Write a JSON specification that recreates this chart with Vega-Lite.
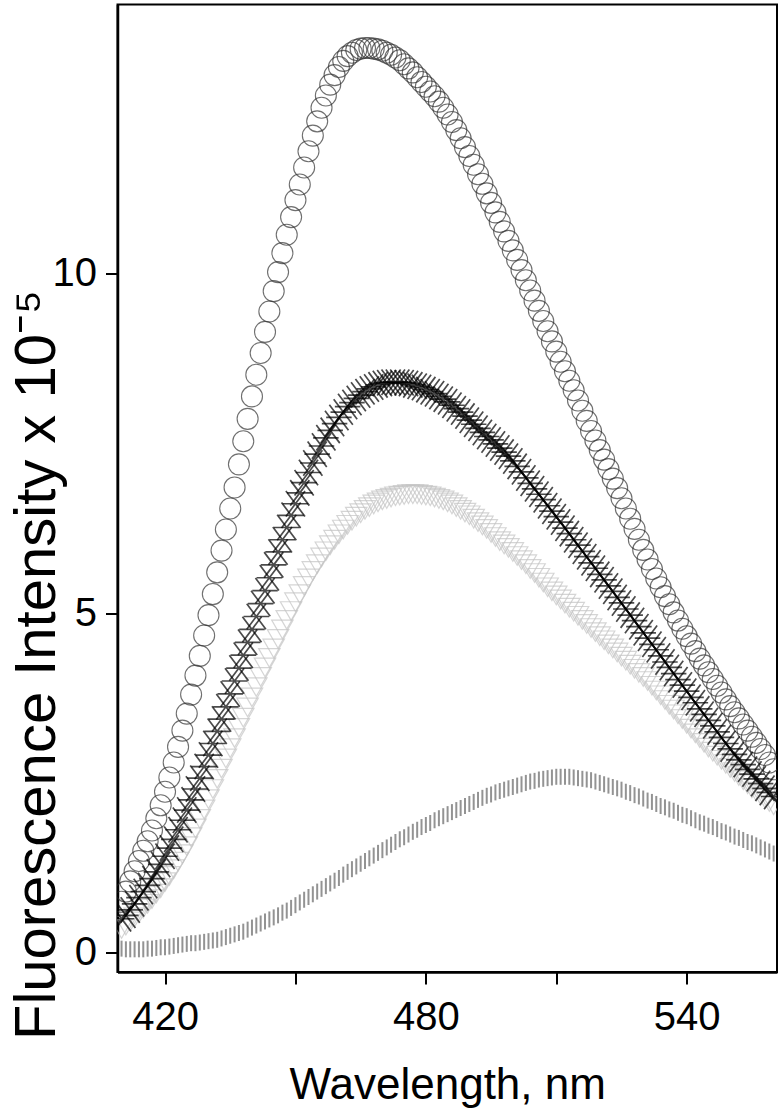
{
  "$schema": "https://vega.github.io/schema/vega-lite/v6.json",
  "width": 659.5,
  "height": 967.5,
  "autosize": {"type": "none"},
  "padding": {"left": 117.5, "top": 4.5, "right": 6, "bottom": 144},
  "background": "white",
  "config": {
    "font": "Liberation Sans",
    "view": {"stroke": "black", "strokeWidth": 2},
    "axis": {
      "grid": false,
      "domainColor": "black", "domainWidth": 2.5,
      "tickColor": "black", "tickWidth": 2, "tickSize": 12,
      "labelFont": "Liberation Sans", "labelFontSize": 40, "labelColor": "black",
      "titleFont": "Liberation Sans", "titleFontWeight": "normal", "titleColor": "black"
    }
  },
  "data": {"values": [
    {"w":410,"c":0.75,"s":0.50,"t":0.35,"b":0.06},
    {"w":411,"c":0.90,"s":0.55,"t":0.40,"b":0.05},
    {"w":412,"c":1.05,"s":0.63,"t":0.46,"b":0.05},
    {"w":413,"c":1.20,"s":0.72,"t":0.52,"b":0.05},
    {"w":414,"c":1.35,"s":0.81,"t":0.58,"b":0.05},
    {"w":415,"c":1.50,"s":0.90,"t":0.65,"b":0.05},
    {"w":416,"c":1.64,"s":0.99,"t":0.72,"b":0.06},
    {"w":417,"c":1.80,"s":1.09,"t":0.79,"b":0.06},
    {"w":418,"c":1.98,"s":1.19,"t":0.87,"b":0.07},
    {"w":419,"c":2.17,"s":1.30,"t":0.95,"b":0.08},
    {"w":420,"c":2.37,"s":1.42,"t":1.04,"b":0.08},
    {"w":421,"c":2.58,"s":1.54,"t":1.13,"b":0.09},
    {"w":422,"c":2.80,"s":1.67,"t":1.23,"b":0.10},
    {"w":423,"c":3.03,"s":1.81,"t":1.34,"b":0.11},
    {"w":424,"c":3.27,"s":1.95,"t":1.45,"b":0.12},
    {"w":425,"c":3.52,"s":2.10,"t":1.57,"b":0.13},
    {"w":426,"c":3.80,"s":2.25,"t":1.70,"b":0.14},
    {"w":427,"c":4.08,"s":2.41,"t":1.83,"b":0.14},
    {"w":428,"c":4.37,"s":2.57,"t":1.97,"b":0.15},
    {"w":429,"c":4.67,"s":2.74,"t":2.11,"b":0.16},
    {"w":430,"c":4.97,"s":2.91,"t":2.26,"b":0.17},
    {"w":431,"c":5.28,"s":3.08,"t":2.41,"b":0.18},
    {"w":432,"c":5.60,"s":3.26,"t":2.56,"b":0.19},
    {"w":433,"c":5.92,"s":3.44,"t":2.71,"b":0.21},
    {"w":434,"c":6.23,"s":3.62,"t":2.86,"b":0.23},
    {"w":435,"c":6.54,"s":3.81,"t":3.01,"b":0.25},
    {"w":436,"c":6.85,"s":4.00,"t":3.16,"b":0.27},
    {"w":437,"c":7.19,"s":4.19,"t":3.31,"b":0.29},
    {"w":438,"c":7.53,"s":4.38,"t":3.46,"b":0.31},
    {"w":439,"c":7.86,"s":4.57,"t":3.61,"b":0.34},
    {"w":440,"c":8.19,"s":4.76,"t":3.76,"b":0.37},
    {"w":441,"c":8.51,"s":4.95,"t":3.91,"b":0.40},
    {"w":442,"c":8.83,"s":5.14,"t":4.06,"b":0.43},
    {"w":443,"c":9.14,"s":5.33,"t":4.20,"b":0.46},
    {"w":444,"c":9.44,"s":5.52,"t":4.34,"b":0.49},
    {"w":445,"c":9.74,"s":5.71,"t":4.48,"b":0.52},
    {"w":446,"c":10.02,"s":5.90,"t":4.62,"b":0.55},
    {"w":447,"c":10.30,"s":6.08,"t":4.76,"b":0.59},
    {"w":448,"c":10.57,"s":6.26,"t":4.90,"b":0.62},
    {"w":449,"c":10.83,"s":6.44,"t":5.03,"b":0.66},
    {"w":450,"c":11.08,"s":6.61,"t":5.16,"b":0.70},
    {"w":451,"c":11.31,"s":6.77,"t":5.28,"b":0.74},
    {"w":452,"c":11.56,"s":6.92,"t":5.40,"b":0.78},
    {"w":453,"c":11.80,"s":7.07,"t":5.51,"b":0.82},
    {"w":454,"c":12.03,"s":7.21,"t":5.62,"b":0.86},
    {"w":455,"c":12.24,"s":7.34,"t":5.72,"b":0.90},
    {"w":456,"c":12.44,"s":7.46,"t":5.82,"b":0.94},
    {"w":457,"c":12.62,"s":7.58,"t":5.91,"b":0.98},
    {"w":458,"c":12.78,"s":7.69,"t":6.00,"b":1.02},
    {"w":459,"c":12.92,"s":7.79,"t":6.08,"b":1.06},
    {"w":460,"c":13.04,"s":7.88,"t":6.16,"b":1.10},
    {"w":461,"c":13.13,"s":7.96,"t":6.23,"b":1.15},
    {"w":462,"c":13.20,"s":8.04,"t":6.30,"b":1.19},
    {"w":463,"c":13.25,"s":8.10,"t":6.36,"b":1.23},
    {"w":464,"c":13.29,"s":8.16,"t":6.42,"b":1.27},
    {"w":465,"c":13.31,"s":8.21,"t":6.47,"b":1.31},
    {"w":466,"c":13.32,"s":8.26,"t":6.52,"b":1.35},
    {"w":467,"c":13.32,"s":8.30,"t":6.56,"b":1.39},
    {"w":468,"c":13.31,"s":8.33,"t":6.60,"b":1.43},
    {"w":469,"c":13.30,"s":8.36,"t":6.63,"b":1.47},
    {"w":470,"c":13.28,"s":8.38,"t":6.66,"b":1.51},
    {"w":471,"c":13.25,"s":8.39,"t":6.68,"b":1.55},
    {"w":472,"c":13.22,"s":8.40,"t":6.70,"b":1.59},
    {"w":473,"c":13.18,"s":8.40,"t":6.72,"b":1.63},
    {"w":474,"c":13.14,"s":8.40,"t":6.73,"b":1.67},
    {"w":475,"c":13.08,"s":8.39,"t":6.74,"b":1.70},
    {"w":476,"c":13.02,"s":8.38,"t":6.75,"b":1.74},
    {"w":477,"c":12.96,"s":8.36,"t":6.75,"b":1.78},
    {"w":478,"c":12.89,"s":8.34,"t":6.75,"b":1.81},
    {"w":479,"c":12.82,"s":8.32,"t":6.74,"b":1.85},
    {"w":480,"c":12.75,"s":8.29,"t":6.73,"b":1.88},
    {"w":481,"c":12.68,"s":8.26,"t":6.72,"b":1.91},
    {"w":482,"c":12.61,"s":8.23,"t":6.70,"b":1.95},
    {"w":483,"c":12.53,"s":8.19,"t":6.68,"b":1.98},
    {"w":484,"c":12.44,"s":8.15,"t":6.66,"b":2.01},
    {"w":485,"c":12.34,"s":8.11,"t":6.63,"b":2.04},
    {"w":486,"c":12.23,"s":8.06,"t":6.60,"b":2.07},
    {"w":487,"c":12.11,"s":8.01,"t":6.56,"b":2.10},
    {"w":488,"c":11.99,"s":7.96,"t":6.52,"b":2.13},
    {"w":489,"c":11.86,"s":7.90,"t":6.48,"b":2.16},
    {"w":490,"c":11.73,"s":7.84,"t":6.44,"b":2.19},
    {"w":491,"c":11.60,"s":7.78,"t":6.39,"b":2.22},
    {"w":492,"c":11.46,"s":7.72,"t":6.34,"b":2.25},
    {"w":493,"c":11.32,"s":7.66,"t":6.29,"b":2.28},
    {"w":494,"c":11.18,"s":7.60,"t":6.24,"b":2.31},
    {"w":495,"c":11.04,"s":7.55,"t":6.18,"b":2.33},
    {"w":496,"c":10.90,"s":7.49,"t":6.12,"b":2.36},
    {"w":497,"c":10.76,"s":7.43,"t":6.06,"b":2.38},
    {"w":498,"c":10.62,"s":7.37,"t":6.01,"b":2.40},
    {"w":499,"c":10.48,"s":7.31,"t":5.96,"b":2.42},
    {"w":500,"c":10.34,"s":7.24,"t":5.90,"b":2.44},
    {"w":501,"c":10.20,"s":7.16,"t":5.84,"b":2.46},
    {"w":502,"c":10.05,"s":7.08,"t":5.78,"b":2.48},
    {"w":503,"c":9.90,"s":6.99,"t":5.72,"b":2.50},
    {"w":504,"c":9.75,"s":6.91,"t":5.65,"b":2.52},
    {"w":505,"c":9.60,"s":6.83,"t":5.59,"b":2.53},
    {"w":506,"c":9.45,"s":6.75,"t":5.52,"b":2.55},
    {"w":507,"c":9.30,"s":6.67,"t":5.45,"b":2.56},
    {"w":508,"c":9.15,"s":6.58,"t":5.38,"b":2.57},
    {"w":509,"c":9.00,"s":6.50,"t":5.32,"b":2.58},
    {"w":510,"c":8.85,"s":6.42,"t":5.26,"b":2.59},
    {"w":511,"c":8.70,"s":6.34,"t":5.20,"b":2.59},
    {"w":512,"c":8.56,"s":6.25,"t":5.14,"b":2.59},
    {"w":513,"c":8.42,"s":6.17,"t":5.08,"b":2.59},
    {"w":514,"c":8.28,"s":6.08,"t":5.02,"b":2.58},
    {"w":515,"c":8.13,"s":6.00,"t":4.96,"b":2.57},
    {"w":516,"c":7.98,"s":5.91,"t":4.90,"b":2.56},
    {"w":517,"c":7.83,"s":5.83,"t":4.84,"b":2.55},
    {"w":518,"c":7.68,"s":5.74,"t":4.78,"b":2.54},
    {"w":519,"c":7.54,"s":5.66,"t":4.72,"b":2.52},
    {"w":520,"c":7.40,"s":5.57,"t":4.66,"b":2.50},
    {"w":521,"c":7.26,"s":5.49,"t":4.60,"b":2.48},
    {"w":522,"c":7.12,"s":5.40,"t":4.54,"b":2.46},
    {"w":523,"c":6.98,"s":5.32,"t":4.48,"b":2.44},
    {"w":524,"c":6.84,"s":5.23,"t":4.42,"b":2.42},
    {"w":525,"c":6.69,"s":5.15,"t":4.36,"b":2.40},
    {"w":526,"c":6.54,"s":5.06,"t":4.30,"b":2.37},
    {"w":527,"c":6.39,"s":4.97,"t":4.24,"b":2.35},
    {"w":528,"c":6.24,"s":4.89,"t":4.18,"b":2.32},
    {"w":529,"c":6.08,"s":4.80,"t":4.12,"b":2.30},
    {"w":530,"c":5.93,"s":4.71,"t":4.06,"b":2.27},
    {"w":531,"c":5.79,"s":4.63,"t":4.00,"b":2.24},
    {"w":532,"c":5.65,"s":4.54,"t":3.93,"b":2.22},
    {"w":533,"c":5.51,"s":4.46,"t":3.86,"b":2.19},
    {"w":534,"c":5.38,"s":4.37,"t":3.79,"b":2.16},
    {"w":535,"c":5.25,"s":4.28,"t":3.72,"b":2.14},
    {"w":536,"c":5.13,"s":4.20,"t":3.65,"b":2.11},
    {"w":537,"c":5.01,"s":4.11,"t":3.58,"b":2.09},
    {"w":538,"c":4.89,"s":4.02,"t":3.51,"b":2.06},
    {"w":539,"c":4.77,"s":3.94,"t":3.44,"b":2.03},
    {"w":540,"c":4.66,"s":3.85,"t":3.37,"b":2.01},
    {"w":541,"c":4.55,"s":3.76,"t":3.30,"b":1.98},
    {"w":542,"c":4.44,"s":3.68,"t":3.23,"b":1.95},
    {"w":543,"c":4.33,"s":3.59,"t":3.16,"b":1.92},
    {"w":544,"c":4.23,"s":3.51,"t":3.09,"b":1.90},
    {"w":545,"c":4.13,"s":3.42,"t":3.02,"b":1.87},
    {"w":546,"c":4.03,"s":3.34,"t":2.96,"b":1.85},
    {"w":547,"c":3.93,"s":3.25,"t":2.90,"b":1.82},
    {"w":548,"c":3.83,"s":3.17,"t":2.84,"b":1.79},
    {"w":549,"c":3.73,"s":3.08,"t":2.78,"b":1.77},
    {"w":550,"c":3.63,"s":3.00,"t":2.72,"b":1.74},
    {"w":551,"c":3.54,"s":2.92,"t":2.66,"b":1.71},
    {"w":552,"c":3.45,"s":2.84,"t":2.60,"b":1.69},
    {"w":553,"c":3.36,"s":2.77,"t":2.54,"b":1.66},
    {"w":554,"c":3.27,"s":2.70,"t":2.48,"b":1.63},
    {"w":555,"c":3.18,"s":2.63,"t":2.42,"b":1.61},
    {"w":556,"c":3.09,"s":2.56,"t":2.37,"b":1.58},
    {"w":557,"c":3.00,"s":2.49,"t":2.32,"b":1.55},
    {"w":558,"c":2.91,"s":2.42,"t":2.27,"b":1.52},
    {"w":559,"c":2.80,"s":2.36,"t":2.22,"b":1.49},
    {"w":560,"c":2.70,"s":2.30,"t":2.17,"b":1.46}
  ]},
  "encoding": {
    "x": {
      "field": "w", "type": "quantitative",
      "scale": {"domain": [409.07, 560.77], "nice": false, "zero": false},
      "axis": {
        "values": [420, 450, 480, 510, 540],
        "labelExpr": "datum.value % 60 == 0 ? datum.label : ''",
        "labelPadding": 13, "labelFlush": false,
        "title": "Wavelength, nm", "titleFontSize": 44, "titlePadding": 26
      }
    }
  },
  "layer": [
    {
      "mark": {"type": "point", "shape": "triangle-down", "filled": false, "size": 460, "stroke": "#c4c4c4", "strokeWidth": 1.2, "clip": true},
      "encoding": {"y": {"field": "t", "type": "quantitative", "scale": {"domain": [-0.284, 13.96], "nice": false, "zero": false}, "title": "Fluorescence Intensity x 10⁻⁵",
        "axis": {"values": [0, 5, 10], "labelPadding": 9, "titleFontSize": 58, "titleAngle": -90, "titleAlign": "center", "titleBaseline": "alphabetic", "titleX": -63, "titleY": 660}}}
    },
    {
      "mark": {"type": "point", "shape": "M0,-1L0,1", "filled": false, "size": 256, "stroke": "#666666", "strokeWidth": 2, "clip": true},
      "encoding": {"y": {"field": "b", "type": "quantitative", "scale": {"domain": [-0.284, 13.96], "nice": false, "zero": false}, "title": "Fluorescence Intensity x 10⁻⁵",
        "axis": {"values": [0, 5, 10], "labelPadding": 9, "titleFontSize": 58, "titleAngle": -90, "titleAlign": "center", "titleBaseline": "alphabetic", "titleX": -63, "titleY": 660}}}
    },
    {
      "mark": {"type": "point", "shape": "circle", "filled": false, "size": 441, "stroke": "#333333", "strokeWidth": 1.1, "clip": true},
      "encoding": {"y": {"field": "c", "type": "quantitative", "scale": {"domain": [-0.284, 13.96], "nice": false, "zero": false}, "title": "Fluorescence Intensity x 10⁻⁵",
        "axis": {"values": [0, 5, 10], "labelPadding": 9, "titleFontSize": 58, "titleAngle": -90, "titleAlign": "center", "titleBaseline": "alphabetic", "titleX": -63, "titleY": 660}}}
    },
    {
      "mark": {"type": "point", "shape": "M-0.75,-1L0.75,1M-0.75,1L0.75,-1M-1,0L1,0", "filled": false, "size": 650, "stroke": "black", "strokeWidth": 1.7, "clip": true},
      "encoding": {"y": {"field": "s", "type": "quantitative", "scale": {"domain": [-0.284, 13.96], "nice": false, "zero": false}, "title": "Fluorescence Intensity x 10⁻⁵",
        "axis": {"values": [0, 5, 10], "labelPadding": 9, "titleFontSize": 58, "titleAngle": -90, "titleAlign": "center", "titleBaseline": "alphabetic", "titleX": -63, "titleY": 660}}}
    }
  ]
}
